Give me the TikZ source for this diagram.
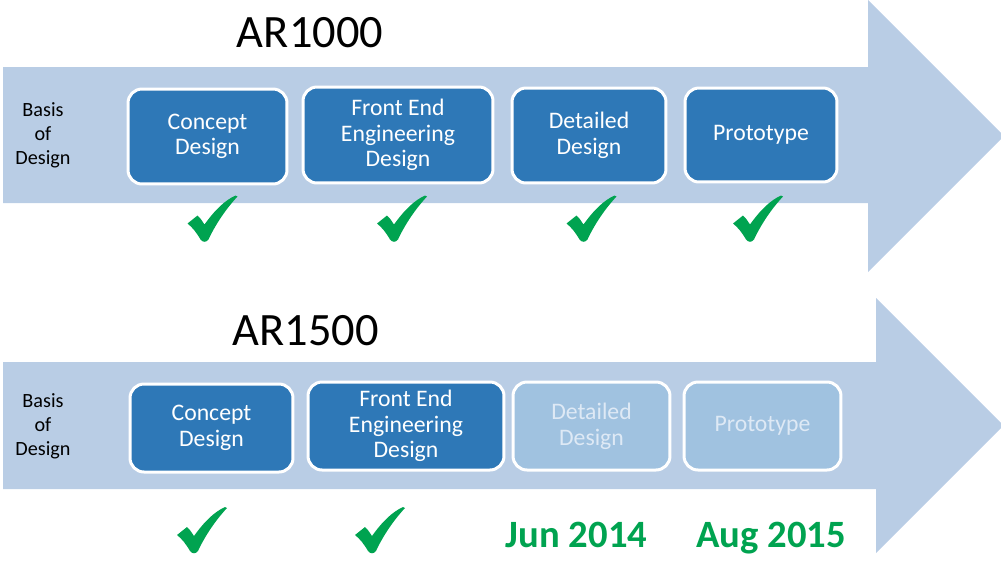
\documentclass[tikz,border=0pt]{standalone}
\usepackage{fontspec}
\setmainfont{Carlito}
\usepackage{tikz}
\usetikzlibrary{positioning}

\definecolor{shaftblue}{RGB}{185,205,229}
\definecolor{stageblue}{RGB}{46,120,183}
\definecolor{fadedblue}{RGB}{160,194,224}
\definecolor{fadedtext}{RGB}{222,233,245}
\definecolor{tickgreen}{RGB}{0,163,80}

\tikzset{
	checkmark/.pic={
		\fill[tickgreen] (-25,5) -- (-15,-3) .. controls (-12,0) .. (-8,6)
			.. controls (2,-8) and (12,-18) .. (23,-23) -- (25,-22)
			.. controls (12,-8) and (2,8) .. (-4,21)
			.. controls (-6,24) and (-10,24) .. (-12,21)
			.. controls (-16,14) and (-20,9) .. cycle;
	}
}

\begin{document}
\begin{tikzpicture}[
		x=0.02cm, y=-0.02cm,
		every node/.style={align=center, inner sep=0pt},
		stage/.style={rectangle, rounded corners=0.28cm, fill=stageblue, draw=white,
			line width=0.06cm, text=white, font=\fontsize{13.5pt}{14.6pt}\selectfont},
		faded/.style={stage, fill=fadedblue, text=fadedtext},
		title/.style={anchor=base, font=\fontsize{26.4pt}{30pt}\selectfont},
		basis/.style={font=\fontsize{11.5pt}{13.6pt}\selectfont},
		date/.style={anchor=base, text=tickgreen, font=\bfseries\fontsize{22pt}{26pt}\selectfont}
		]
		\useasboundingbox (0,0) rectangle (1001,562);
		
		% Arrows
		\fill[shaftblue] (3,67) -- (868,67) -- (868,0) -- (1001,133) -- (1001,139)
			-- (868,272) -- (868,203) -- (3,203) -- cycle;
		\fill[shaftblue] (3,362) -- (876,362) -- (876,298) -- (1001,423) -- (1001,428)
			-- (876,553) -- (876,489) -- (3,489) -- cycle;
		
		% AR1000
		\node[title] (titleA) at (310,47) {AR1000};
		\node[basis] (basisA) at (43,135) {Basis\\of\\Design};
		\node[stage, minimum width=3.18cm, minimum height=1.9cm] (conceptA) at (207.5,136.5) {Concept\\Design};
		\node[stage, minimum width=3.8cm, minimum height=1.92cm] (feedA) at (398,135) {Front End\\Engineering\\Design};
		\node[stage, minimum width=3.08cm, minimum height=1.9cm] (detailA) at (589,135.5) {Detailed\\Design};
		\node[stage, minimum width=3.04cm, minimum height=1.88cm] (protoA) at (761,135) {Prototype};
		
		\pic at (212.5,218.5) {checkmark};
		\pic at (402,218.5) {checkmark};
		\pic at (591.5,218.5) {checkmark};
		\pic at (758,218.5) {checkmark};
		
		% AR1500
		\node[title] (titleB) at (305.5,345) {AR1500};
		\node[basis] (basisB) at (43,426) {Basis\\of\\Design};
		\node[stage, minimum width=3.26cm, minimum height=1.76cm] (conceptB) at (211.5,428) {Concept\\Design};
		\node[stage, minimum width=3.92cm, minimum height=1.76cm] (feedB) at (406,426) {Front End\\Engineering\\Design};
		\node[faded, minimum width=3.14cm, minimum height=1.76cm] (detailB) at (591.5,426) {Detailed\\Design};
		\node[faded, minimum width=3.14cm, minimum height=1.76cm] (protoB) at (762.5,426) {Prototype};
		
		\pic at (202,530) {checkmark};
		\pic at (380,530) {checkmark};
		\node[date] (jun) at (576.5,547) {Jun 2014};
		\node[date] (aug) at (771,547) {Aug 2015};
		
	\end{tikzpicture}
\end{document}
